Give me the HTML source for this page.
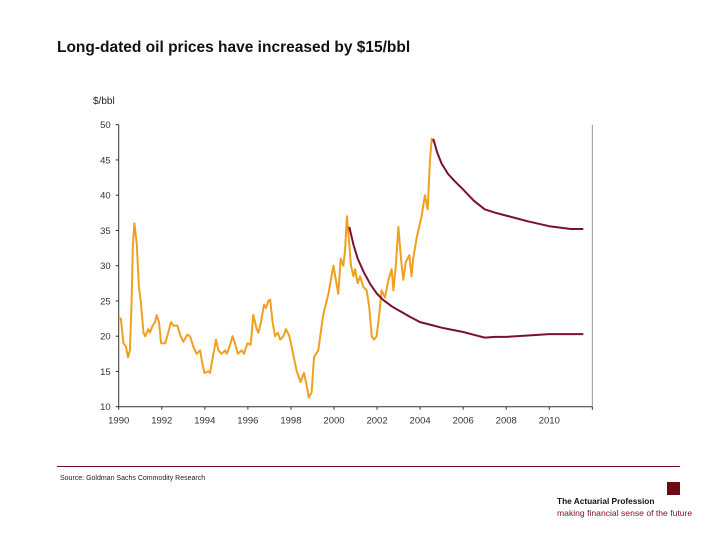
<!DOCTYPE html>
<html><head><meta charset="utf-8"><style>
body{margin:0;background:#fff;}
#wrap{position:relative;width:720px;height:540px;overflow:hidden;font-family:"Liberation Sans",sans-serif;}
</style></head><body>
<div id="wrap">
<svg id="chart" width="720" height="540">
  <text x="57" y="52" font-size="15.5" font-weight="bold" fill="#111">Long-dated oil prices have increased by $15/bbl</text>
  <text x="93" y="104" font-size="10" fill="#222">$/bbl</text>
  <rect x="57" y="466" width="623" height="1" fill="#6e0b20"/>
  <text x="60" y="480" font-size="7" fill="#222">Source: Goldman Sachs Commodity Research</text>
  <rect x="667" y="482" width="13" height="13" fill="#6e0b12"/>
  <text x="557" y="504" font-size="8.3" font-weight="bold" fill="#111">The Actuarial Profession</text>
  <text x="557" y="516" font-size="8.6" fill="#7a1020">making financial sense of the future</text>
  <g id="plot"></g>
</svg>
</div>
<script>
const yTicks=[10,15,20,25,30,35,40,45,50];
const xTickYears=[1990,1992,1994,1996,1998,2000,2002,2004,2006,2008,2010,2012];
const xLabels=["1990","1992","1994","1996","1998","2000","2002","2004","2006","2008","2010"];
const spotYears=[1990,1990.1,1990.22,1990.34,1990.43,1990.52,1990.59,1990.66,1990.73,1990.84,1990.94,1991.02,1991.15,1991.23,1991.38,1991.45,1991.58,1991.69,1991.76,1991.87,1991.97,1992.16,1992.3,1992.43,1992.54,1992.72,1992.88,1993.0,1993.19,1993.31,1993.47,1993.62,1993.78,1993.89,1993.98,1994.16,1994.24,1994.37,1994.52,1994.63,1994.78,1994.94,1995.02,1995.14,1995.29,1995.4,1995.53,1995.71,1995.82,1995.98,1996.13,1996.25,1996.41,1996.49,1996.61,1996.75,1996.84,1996.95,1997.03,1997.15,1997.26,1997.39,1997.5,1997.65,1997.77,1997.93,1998.1,1998.27,1998.45,1998.6,1998.7,1998.83,1998.96,1999.07,1999.27,1999.5,1999.74,1999.97,2000.2,2000.31,2000.43,2000.51,2000.6,2000.71,2000.79,2000.9,2000.98,2001.1,2001.21,2001.36,2001.52,2001.64,2001.75,2001.86,2001.98,2002.1,2002.21,2002.37,2002.53,2002.68,2002.76,2002.87,2002.99,2003.11,2003.22,2003.33,2003.5,2003.6,2003.68,2003.84,2004.07,2004.22,2004.35,2004.46,2004.54,2004.61,2004.66];
const spotValues=[22.5,22.5,19,18.5,17,18,24,33,36,33,27,25,20.5,20,21,20.5,21.5,22,23,22,19,19,20.5,22,21.5,21.5,20,19.2,20.2,20,18.5,17.5,18,16,14.8,15,14.8,17,19.5,18,17.5,18,17.5,18.5,20,19,17.5,18,17.5,19,18.8,23,21,20.5,22,24.5,24,25,25.2,22,20,20.5,19.5,20,21,20,17.5,15,13.5,14.8,13.5,11.3,12,17,18,23,26,30,26,31,30,32,37,33,30,28.5,29.5,27.5,28.5,27,26.5,24,20,19.5,20,23,26.5,25.5,28,29.5,26.5,30,35.5,31,28,30.5,31.5,28.5,31,34,37,40,38,45,48,47.5];
const fwd1Years=[2000.71,2000.9,2001.1,2001.4,2001.7,2002.0,2002.3,2002.7,2003.1,2003.5,2004.0,2004.5,2005.0,2005.5,2006.0,2006.5,2007.0,2007.5,2008.0,2009.0,2010.0,2011.58];
const fwd1Values=[35.5,33,31,29,27.3,26,25.1,24.2,23.5,22.8,22,21.6,21.2,20.9,20.6,20.2,19.8,19.9,19.9,20.1,20.3,20.3];
const fwd2Years=[2004.61,2004.8,2005.0,2005.3,2005.6,2006.0,2006.5,2007.0,2007.5,2008.0,2009.0,2010.0,2011.0,2011.58];
const fwd2Values=[48,46,44.5,43,42,40.8,39.2,38,37.5,37.1,36.3,35.6,35.2,35.2];

const X0=118.7,X1=549.3,Y0=406.7,Y1=124.7;
const xs=y=>X0+(y-1990)*(X1-X0)/20;
const ys=v=>Y0-(v-10)*(Y0-Y1)/40;
const NS="http://www.w3.org/2000/svg";
const g=document.getElementById('plot');
function mk(tag,attrs){const e=document.createElementNS(NS,tag);for(const k in attrs)e.setAttribute(k,attrs[k]);g.appendChild(e);return e;}

let e=mk('line',{x1:X0,y1:Y1,x2:X0,y2:Y0,stroke:'#333','stroke-width':1});


e=mk('line',{x1:X0,y1:Y0,x2:xs(2012),y2:Y0,stroke:'#333','stroke-width':1});


e=mk('line',{x1:xs(2012),y1:Y1,x2:xs(2012),y2:Y0,stroke:'#999','stroke-width':1});



yTicks.forEach(v=>{
  let t=mk('line',{x1:X0-3,y1:ys(v),x2:X0,y2:ys(v),stroke:'#333'});
  
  
  let l=mk('text',{x:X0-8,y:ys(v)+3.5,'font-size':9.5,'text-anchor':'end',fill:'#333'});
  l.textContent=v;
  
  
});
xTickYears.forEach(y=>{
  let t=mk('line',{x1:xs(y),y1:Y0,x2:xs(y),y2:Y0+3,stroke:'#333'});
  
  
});
xLabels.forEach(s=>{
  let l=mk('text',{x:xs(+s),y:Y0+17,'font-size':9.5,'text-anchor':'middle',fill:'#333'});
  l.textContent=s;
  
  
});
function path(yrs,vals){
  return 'M'+yrs.map((y,i)=>xs(y).toFixed(1)+','+ys(vals[i]).toFixed(1)).join('L');
}
e=mk('path',{d:path(spotYears,spotValues),fill:'none',stroke:'#f0a020','stroke-width':2,'stroke-linejoin':'round'});


e=mk('path',{d:path(fwd1Years,fwd1Values),fill:'none',stroke:'#7a1030','stroke-width':2,'stroke-linejoin':'round'});


e=mk('path',{d:path(fwd2Years,fwd2Values),fill:'none',stroke:'#7a1030','stroke-width':2,'stroke-linejoin':'round'});


</script>
</body></html>
